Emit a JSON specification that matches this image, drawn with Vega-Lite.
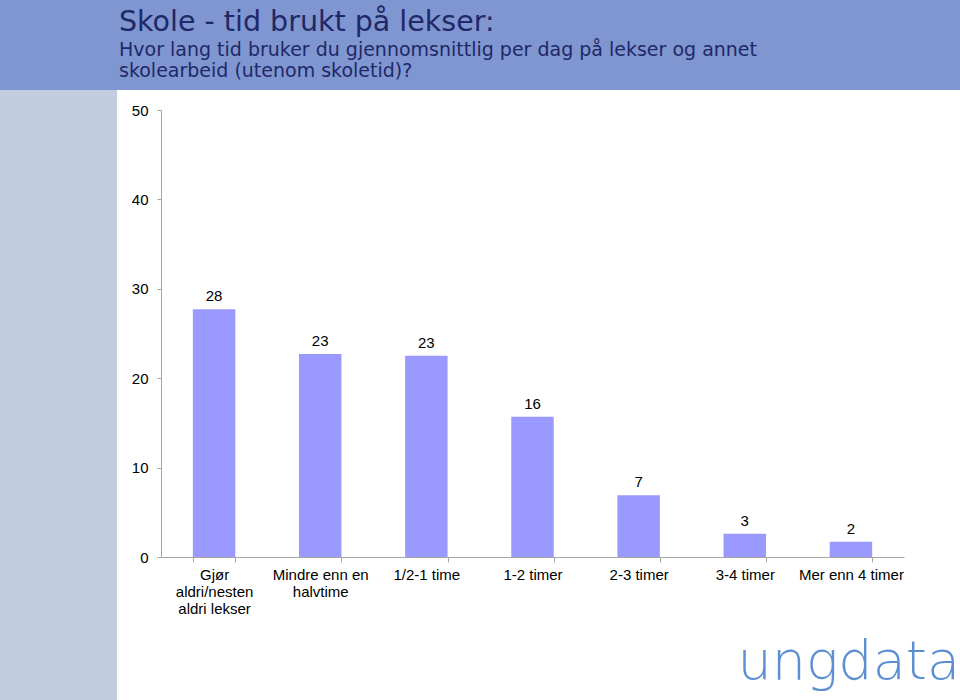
{
  "$schema": "https://vega.github.io/schema/vega-lite/v6.json",
  "background": "white",
  "padding": 0,
  "autosize": {"type": "pad"},
  "config": {"view": {"stroke": null}, "font": "Liberation Sans"},
  "spacing": 0,
  "bounds": "flush",
  "vconcat": [
    {
      "width": 960,
      "height": 90,
      "view": {"fill": "#7f96d0", "stroke": null},
      "title": {
        "text": "Skole - tid brukt på lekser:",
        "subtitle": ["Hvor lang tid bruker du gjennomsnittlig per dag på lekser og annet", "skolearbeid (utenom skoletid)?"],
        "anchor": "start",
        "frame": "group",
        "orient": "top",
        "offset": -81,
        "dx": 119,
        "font": "DejaVu Sans",
        "fontSize": 28.5,
        "fontWeight": "normal",
        "color": "#1f2868",
        "subtitleFont": "DejaVu Sans",
        "subtitleFontSize": 19,
        "subtitleColor": "#1f2868",
        "subtitleLineHeight": 21,
        "subtitlePadding": 5
      },
      "data": {"values": [{"t": ""}]},
      "mark": "text",
      "encoding": {"text": {"field": "t"}}
    },
    {
      "spacing": 44,
      "bounds": "flush",
      "hconcat": [
        {
          "width": 117,
          "height": 610,
          "view": {"fill": "#c3cde0", "stroke": null},
          "data": {"values": [{"t": ""}]},
          "mark": "text",
          "encoding": {"text": {"field": "t"}}
        },
        {
          "spacing": 19,
          "bounds": "flush",
          "vconcat": [
            {
              "width": 743,
              "height": 1,
              "data": {"values": [{"t": ""}]},
              "mark": "text",
              "encoding": {"text": {"field": "t"}}
            },
            {
              "width": 743,
              "height": 447,
              "data": {
                "values": [
                  {"kategori": "Gjør aldri/nesten aldri lekser", "prosent": 27.7},
                  {"kategori": "Mindre enn en halvtime", "prosent": 22.7},
                  {"kategori": "1/2-1 time", "prosent": 22.5},
                  {"kategori": "1-2 timer", "prosent": 15.7},
                  {"kategori": "2-3 timer", "prosent": 6.9},
                  {"kategori": "3-4 timer", "prosent": 2.6},
                  {"kategori": "Mer enn 4 timer", "prosent": 1.7}
                ]
              },
              "title": {
                "text": "ungdata",
                "orient": "bottom",
                "anchor": "end",
                "frame": "group",
                "offset": 20,
                "dx": 56,
                "font": "DejaVu Sans",
                "fontSize": 54,
                "fontWeight": 200,
                "color": "#5b8fd2"
              },
              "encoding": {
                "x": {
                  "field": "kategori",
                  "type": "nominal",
                  "sort": null,
                  "scale": {"paddingInner": 0.6, "paddingOuter": 0.3},
                  "axis": {
                    "title": null,
                    "labelAngle": 0,
                    "tickBand": "extent",
                    "domainColor": "#a6a6a6",
                    "tickColor": "#a6a6a6",
                    "tickSize": 5,
                    "labelFontSize": 15,
                    "labelFont": "Liberation Sans",
                    "labelColor": "black",
                    "labelPadding": 5,
                    "labelLineHeight": 17,
                    "labelOverlap": false,
                    "labelExpr": "datum.value == 'Gjør aldri/nesten aldri lekser' ? ['Gjør', 'aldri/nesten', 'aldri lekser'] : datum.value == 'Mindre enn en halvtime' ? ['Mindre enn en', 'halvtime'] : datum.value"
                  }
                }
              },
              "layer": [
                {
                  "mark": {"type": "bar", "color": "#9999ff"},
                  "encoding": {
                    "y": {
                      "field": "prosent",
                      "type": "quantitative",
                      "scale": {"domain": [0, 50]},
                      "axis": {
                        "title": null,
                        "values": [0, 10, 20, 30, 40, 50],
                        "grid": false,
                        "domainColor": "#a6a6a6",
                        "tickColor": "#a6a6a6",
                        "tickSize": 4,
                        "labelPadding": 9,
                        "labelFontSize": 15,
                        "labelFont": "Liberation Sans",
                        "labelColor": "black"
                      }
                    }
                  }
                },
                {
                  "mark": {"type": "text", "baseline": "alphabetic", "dy": -8, "fontSize": 15, "font": "Liberation Sans", "color": "black"},
                  "encoding": {
                    "y": {"field": "prosent", "type": "quantitative"},
                    "text": {"field": "prosent", "type": "quantitative", "format": ".0f"}
                  }
                }
              ]
            }
          ]
        }
      ]
    }
  ]
}
